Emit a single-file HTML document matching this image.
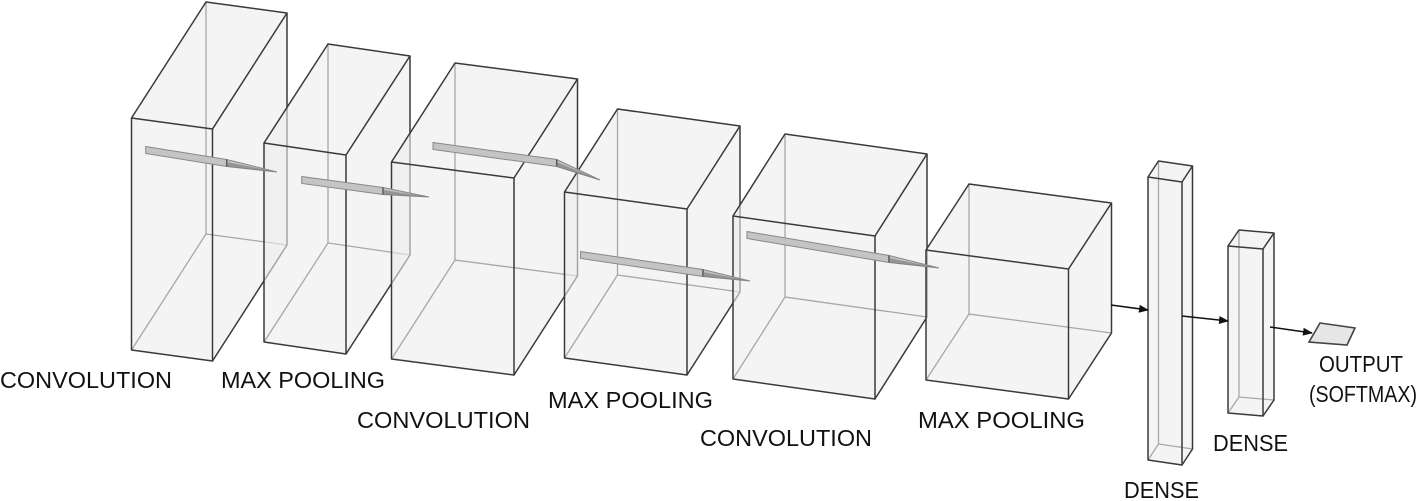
<!DOCTYPE html>
<html><head><meta charset="utf-8"><style>
html,body{margin:0;padding:0;background:#fff;}
svg{display:block;font-family:"Liberation Sans",Arial,sans-serif;}
</style></head><body>
<svg id="c" width="1418" height="501" viewBox="0 0 1418 501"></svg>
<script>
const NS='http://www.w3.org/2000/svg';
const svg=document.getElementById('c');
const layerNames=['convolution-1','max-pooling-1','convolution-2','max-pooling-2','convolution-3','max-pooling-3','dense-1','dense-2'];
const frontX=[131.5,264,391.5,564.5,733,926,1148,1228];
const frontY=[118,143,162,192,216,250,177,246];
const frontW=[81,82,122.5,122.5,142,142.5,34,35];
const frontH=[232,199,197,166,163,130,283,167];
const slant=[11,12,16,17,20,19,5,3];
const depthX=[74.5,64,63.5,53,52,43,10.5,11];
const depthY=[-116,-99,-99,-83,-82,-66,-16,-16];
const tubes=[[145.7,150,226.7,163,277,172],[301.7,180,383,191,429,197],[433,146,556.7,163,600,180],[580.6,255,703,273,750,281],[747,235,889,259,939,268]];
const arrows=[[1111,305,1148,310],[1182,316,1228,321],[1270,327,1312,333]];
const labels=[['CONVOLUTION',0,388,172],['MAX POOLING',221,388,164],['CONVOLUTION',357,428,173],['MAX POOLING',548,408,165],['CONVOLUTION',700,446,172],['MAX POOLING',918,428,167],['DENSE',1124,498,75],['DENSE',1213,451,75],['OUTPUT',1319,372,84],['(SOFTMAX)',1309,402,108]];
function mk(tag,attrs,parent){const e=document.createElementNS(NS,tag);for(const k in attrs)e.setAttribute(k,attrs[k]);(parent||svg).appendChild(e);return e;}
const defs=mk('defs',{});
const mkr=mk('marker',{id:'ah',markerWidth:'10',markerHeight:'8',refX:'9',refY:'4',orient:'auto',markerUnits:'userSpaceOnUse'},defs);
mk('path',{d:'M0,0 L10,4 L0,8 Z',fill:'#111'},mkr);
function P(a){return a.map(p=>p[0].toFixed(1)+','+p[1].toFixed(1)).join(' ');}
for(let i=0;i<frontX.length;i++){
  const g=mk('g',{});
  
  
  const x=frontX[i],y=frontY[i],w=frontW[i],h=frontH[i],s=slant[i],dx=depthX[i],dy=depthY[i];
  const A=[x,y],B=[x+w,y+s],C=[x+w,y+h+s],D=[x,y+h];
  const A2=[x+dx,y+dy],B2=[x+w+dx,y+s+dy],C2=[x+w+dx,y+h+s+dy],D2=[x+dx,y+h+dy];
  mk('polygon',{points:P([A,A2,B2,C2,C,D]),fill:'rgba(236,236,236,0.6)',stroke:'none'},g);
  const hs={stroke:'#a8a8a8','stroke-width':'1.3',fill:'none'};
  mk('polyline',Object.assign({points:P([A2,D2,C2])},hs),g);
  mk('line',Object.assign({x1:D[0],y1:D[1],x2:D2[0],y2:D2[1]},hs),g);
  const vs={stroke:'#3a3a3a','stroke-width':'1.5',fill:'none','stroke-linejoin':'round'};
  mk('polygon',Object.assign({points:P([A,B,C,D])},vs),g);
  mk('polyline',Object.assign({points:P([A,A2,B2,B])},vs),g);
  mk('polyline',Object.assign({points:P([B2,C2,C])},vs),g);
}
tubes.forEach((t,i)=>{
  const g=mk('g',{});
  
  
  const [x1,y1,x2,y2,x3,y3]=t;
  mk('polygon',{points:P([[x1,y1-3.5],[x2,y2-3.5],[x3,y3],[x2,y2+3.5],[x1,y1+3.5]]),fill:'#c4c4c4',stroke:'#888','stroke-width':'1'},g);
  mk('line',{x1:x2,y1:y2-3.5,x2:x2,y2:y2+3.5,stroke:'#555','stroke-width':'1.5'},g);
  mk('polygon',{points:P([[x2,y2-1],[x3,y3],[x2,y2+3.5]]),fill:'#777',opacity:'0.6'},g);
});
arrows.forEach((a,i)=>{
  const l=mk('line',{x1:a[0],y1:a[1],x2:a[2],y2:a[3],stroke:'#111','stroke-width':'1.6','marker-end':'url(#ah)'});
  
  
});
const out=mk('polygon',{points:'1320,323 1355,328 1347,345 1309,342',fill:'#e6e6e6',stroke:'#444','stroke-width':'1.6'});


labels.forEach((lb,i)=>{
  const t=mk('text',{x:lb[1],y:lb[2],'font-size':'23',fill:'#111',textLength:lb[3],lengthAdjust:'spacingAndGlyphs'});
  t.textContent=lb[0];
  
  
});
</script>
</body></html>
